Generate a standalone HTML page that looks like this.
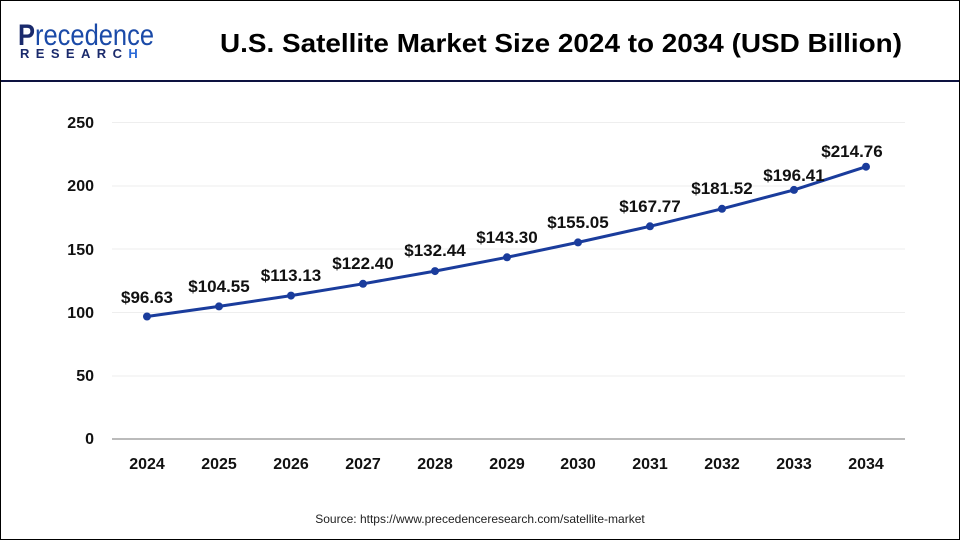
<!DOCTYPE html>
<html><head><meta charset="utf-8"><style>
body{margin:0;width:960px;height:540px;overflow:hidden;background:#fff;font-family:"Liberation Sans",Arial,sans-serif}
.frame{position:absolute;left:0;top:0;width:958px;height:538px;border:1px solid #000}
</style></head><body>
<div class="frame"></div>
<svg width="960" height="540" style="position:absolute;left:0;top:0" font-family="Liberation Sans, Arial, sans-serif">
<text x="18" y="45" font-size="30" fill="#1a2a6c" font-weight="bold" textLength="136" lengthAdjust="spacingAndGlyphs">P<tspan fill="#1a4aa8" font-weight="normal">recedence</tspan></text>
<text x="20" y="58" font-size="13" fill="#1a2a6c" font-weight="bold" letter-spacing="6.4">RESEARC<tspan fill="#2a6ad8">H</tspan></text>
<text x="561" y="52" font-size="26" font-weight="bold" text-anchor="middle" fill="#000" textLength="682" lengthAdjust="spacingAndGlyphs">U.S. Satellite Market Size 2024 to 2034 (USD Billion)</text>
<rect x="1" y="80" width="958" height="2" fill="#0d1240"/>
<g stroke="#eeeeee" stroke-width="1">
<line x1="112" x2="905" y1="122.5" y2="122.5"/><line x1="112" x2="905" y1="186" y2="186"/>
<line x1="112" x2="905" y1="249" y2="249"/><line x1="112" x2="905" y1="312.5" y2="312.5"/>
<line x1="112" x2="905" y1="376" y2="376"/>
</g>
<line x1="112" x2="905" y1="439" y2="439" stroke="#bbbbbb" stroke-width="2"/>
<g font-size="16" font-weight="bold" fill="#111" text-anchor="end">
<text x="94" y="128">250</text><text x="94" y="191">200</text><text x="94" y="255">150</text>
<text x="94" y="318">100</text><text x="94" y="381">50</text><text x="94" y="444">0</text>
</g>
<g font-size="16" font-weight="bold" fill="#111" text-anchor="middle">
<text x="147" y="469">2024</text><text x="219" y="469">2025</text><text x="291" y="469">2026</text>
<text x="363" y="469">2027</text><text x="435" y="469">2028</text><text x="507" y="469">2029</text>
<text x="578" y="469">2030</text><text x="650" y="469">2031</text><text x="722" y="469">2032</text>
<text x="794" y="469">2033</text><text x="866" y="469">2034</text>
</g>
<polyline fill="none" stroke="#1a3c9c" stroke-width="3" points="147,316.5 219,306.4 291,295.6 363,283.8 435,271.1 507,257.3 578,242.4 650,226.3 722,208.8 794,189.9 866,166.7"/>
<g fill="#1a3c9c">
<circle cx="147" cy="316.5" r="4"/><circle cx="219" cy="306.4" r="4"/><circle cx="291" cy="295.6" r="4"/>
<circle cx="363" cy="283.8" r="4"/><circle cx="435" cy="271.1" r="4"/><circle cx="507" cy="257.3" r="4"/>
<circle cx="578" cy="242.4" r="4"/><circle cx="650" cy="226.3" r="4"/><circle cx="722" cy="208.8" r="4"/>
<circle cx="794" cy="189.9" r="4"/><circle cx="866" cy="166.7" r="4"/>
</g>
<g font-size="17" font-weight="bold" fill="#111" text-anchor="middle">
<text x="147" y="303">$96.63</text><text x="219" y="292">$104.55</text><text x="291" y="281">$113.13</text>
<text x="363" y="269">$122.40</text><text x="435" y="256">$132.44</text><text x="507" y="243">$143.30</text>
<text x="578" y="228">$155.05</text><text x="650" y="212">$167.77</text><text x="722" y="194">$181.52</text>
<text x="794" y="181">$196.41</text><text x="852" y="157">$214.76</text>
</g>
<text x="480" y="523" font-size="12" fill="#222" text-anchor="middle">Source: https://www.precedenceresearch.com/satellite-market</text>
</svg>
</body></html>
